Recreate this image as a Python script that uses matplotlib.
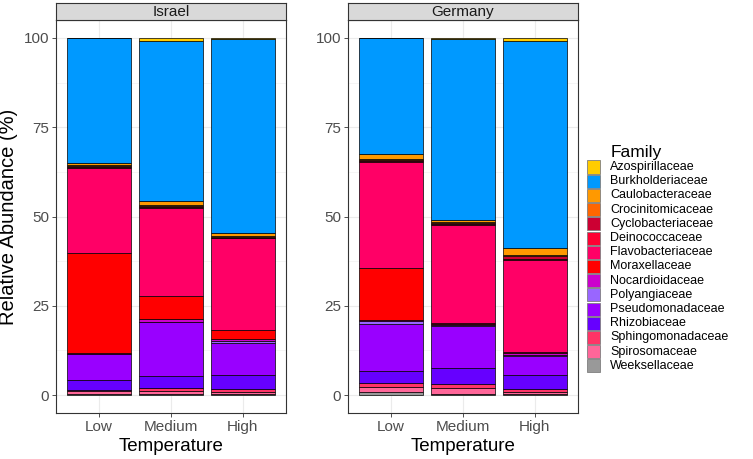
import numpy as np
import matplotlib.pyplot as plt
from matplotlib.patches import Rectangle

plt.rcParams['font.family'] = ['Liberation Sans', 'DejaVu Sans']

# data
temps = ['Low', 'Medium', 'High']
countries = ['Israel', 'Germany']
families = ['Azospirillaceae', 'Burkholderiaceae', 'Caulobacteraceae', 'Crocinitomicaceae',
            'Cyclobacteriaceae', 'Deinococcaceae', 'Flavobacteriaceae', 'Moraxellaceae',
            'Nocardioidaceae', 'Polyangiaceae', 'Pseudomonadaceae', 'Rhizobiaceae',
            'Sphingomonadaceae', 'Spirosomaceae', 'Weeksellaceae']
colors = ['#FFCC00', '#0099FF', '#FF9900', '#FF6600', '#CC0033', '#FF0033', '#FF0066',
          '#FF0000', '#CC00CC', '#9966FF', '#9900FF', '#6600FF', '#FF3366', '#FF6699',
          '#999999']

# abundance (%) per family, columns Low/Medium/High
israel = {
    'Azospirillaceae':   [0.1, 0.8, 0.4],
    'Burkholderiaceae':  [35.0, 44.9, 54.1],
    'Caulobacteraceae':  [0.6, 1.2, 0.9],
    'Crocinitomicaceae': [0.1, 0.2, 0.2],
    'Cyclobacteriaceae': [0.3, 0.3, 0.3],
    'Deinococcaceae':    [0.2, 0.3, 0.2],
    'Flavobacteriaceae': [24.0, 24.5, 25.8],
    'Moraxellaceae':     [28.0, 6.5, 2.5],
    'Nocardioidaceae':   [0.1, 0.7, 0.5],
    'Polyangiaceae':     [0.1, 0.2, 0.5],
    'Pseudomonadaceae':  [7.3, 15.1, 9.0],
    'Rhizobiaceae':      [2.8, 3.3, 3.9],
    'Sphingomonadaceae': [0.3, 0.8, 0.7],
    'Spirosomaceae':     [0.9, 0.8, 0.7],
    'Weeksellaceae':     [0.2, 0.4, 0.3],
}
germany = {
    'Azospirillaceae':   [0.1, 0.2, 0.8],
    'Burkholderiaceae':  [32.5, 50.9, 58.1],
    'Caulobacteraceae':  [1.4, 0.4, 1.9],
    'Crocinitomicaceae': [0.3, 0.2, 0.2],
    'Cyclobacteriaceae': [0.3, 0.5, 0.8],
    'Deinococcaceae':    [0.2, 0.2, 0.4],
    'Flavobacteriaceae': [29.6, 27.4, 25.6],
    'Moraxellaceae':     [14.7, 0.2, 0.4],
    'Nocardioidaceae':   [0.1, 0.5, 0.5],
    'Polyangiaceae':     [0.8, 0.2, 0.4],
    'Pseudomonadaceae':  [13.3, 11.8, 5.3],
    'Rhizobiaceae':      [3.2, 4.4, 3.8],
    'Sphingomonadaceae': [1.1, 1.0, 0.8],
    'Spirosomaceae':     [1.6, 1.8, 0.6],
    'Weeksellaceae':     [0.8, 0.3, 0.4],
}
panels = [israel, germany]

W, H = 753, 459
fig = plt.figure(figsize=(W / 100, H / 100), dpi=100)

def fx(px):
    return px / W

def fy(py):
    return 1 - py / H

panel_left = [56, 348]
panel_w = 230
top, bottom, strip_top = 20, 413, 3

for k, data in enumerate(panels):
    l = panel_left[k]
    ax = fig.add_axes([fx(l), fy(bottom), fx(panel_w), (bottom - top) / H])
    x = np.arange(len(temps))
    base = np.zeros(len(temps))
    # ggplot stacks the first level on top -> draw from the last family upward
    for fam, col in zip(families[::-1], colors[::-1]):
        vals = np.array(data[fam])
        ax.bar(x, vals, bottom=base, width=0.9, color=col, edgecolor='black',
               linewidth=0.5, zorder=3)
        base += vals
    ax.set_xlim(-0.6, 2.6)
    ax.set_ylim(-5, 105)
    ax.set_yticks([0, 25, 50, 75, 100])
    ax.set_yticks([12.5, 37.5, 62.5, 87.5], minor=True)
    ax.set_xticks(x)
    ax.set_xticklabels(temps)
    ax.grid(True, which='major', color='#EBEBEB', linewidth=0.8, zorder=0)
    ax.grid(True, which='minor', axis='y', color='#F2F2F2', linewidth=0.5, zorder=0)
    ax.tick_params(axis='both', which='major', labelsize=11, labelcolor='#4D4D4D',
                   color='#333333', length=3, width=0.6, pad=2)
    ax.tick_params(axis='y', which='minor', length=0)
    for s in ax.spines.values():
        s.set_color('#333333')
        s.set_linewidth(0.8)
    ax.set_xlabel('Temperature', fontsize=13.5, labelpad=3)
    if k == 0:
        ax.set_ylabel('Relative Abundance (%)', fontsize=14.5, labelpad=4)

    # facet strip
    sax = fig.add_axes([fx(l), fy(top), fx(panel_w), (top - strip_top) / H])
    sax.set_facecolor('#D9D9D9')
    sax.set_xticks([])
    sax.set_yticks([])
    for s in sax.spines.values():
        s.set_color('#333333')
        s.set_linewidth(0.8)
    sax.text(0.5, 0.45, countries[k], ha='center', va='center', fontsize=11,
             color='#1A1A1A', transform=sax.transAxes)

# legend
fig.text(fx(611), fy(153), 'Family', fontsize=12.5, ha='left', va='center')
row0, step = 167, 14.2
for i, (fam, col) in enumerate(zip(families, colors)):
    yc = row0 + i * step
    fig.add_artist(Rectangle((fx(587), fy(yc + 6.5)), fx(13), 13 / H,
                             facecolor=col, edgecolor='#7F7F7F', linewidth=0.6,
                             transform=fig.transFigure))
    fig.text(fx(610), fy(yc), fam, fontsize=9, ha='left', va='center')

fig.savefig('out.png', dpi=100)
